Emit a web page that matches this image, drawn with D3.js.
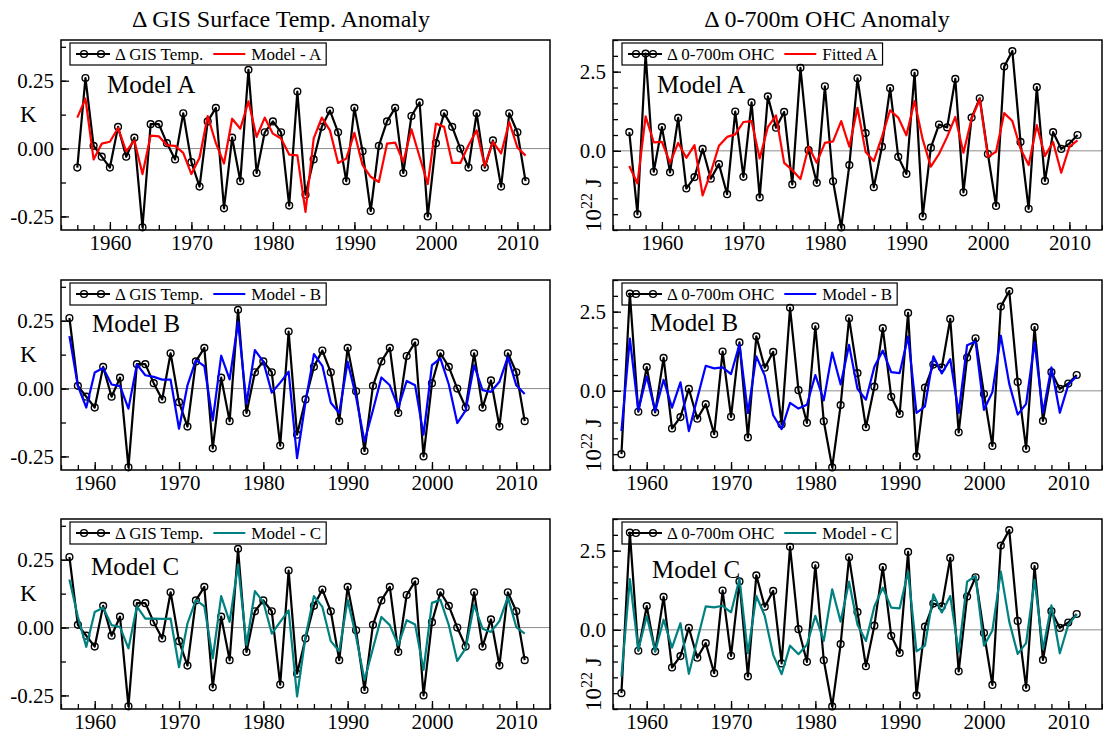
<!DOCTYPE html>
<html>
<head>
<meta charset="utf-8">
<script src="https://cdn.jsdelivr.net/npm/d3@7"></script>
<style>
  body { margin: 0; background: #fff; }
  svg { display: block; font-family: "Liberation Serif", "Times New Roman", serif; }
</style>
</head>
<body>
<div id="chart"></div>
<script>
'use strict'

////////////////////////////////////
//////////////// data //////////////
////////////////////////////////////

// year-to-year change of GIS surface temp, 1956-2011 (K)
const gisTemp = [
  -0.07, 0.26, 0.01, -0.03, -0.07, 0.08, -0.03, 0.04, -0.29, 0.09,
  0.09, 0.02, -0.04, 0.13, -0.05, -0.14, 0.10, 0.15, -0.22, 0.04,
  -0.12, 0.29, -0.09, 0.06, 0.10, 0.06, -0.21, 0.21, -0.17, -0.04,
  0.08, 0.14, 0.06, -0.12, 0.15, -0.01, -0.23, 0.01, 0.10, 0.15,
  -0.09, 0.12, 0.17, -0.25, 0.02, 0.13, 0.08, 0.00, -0.07, 0.13,
  -0.07, 0.03, -0.14, 0.13, 0.06, -0.12
]
// 1956-2011
const gisModelA = [
  0.114, 0.184, -0.04, 0.018, 0.025, 0.076, -0.01, 0.03, -0.094, 0.048,
  0.045, 0.012, 0.01, -0.016, -0.094, -0.034, 0.12, 0.02, -0.055, 0.11,
  0.073, 0.174, 0.043, 0.114, 0.055, 0.037, -0.022, -0.025, -0.233, 0.037,
  0.114, 0.067, -0.053, -0.037, 0.058, -0.061, -0.104, -0.123, 0.018, 0.022,
  -0.049, 0.071, -0.03, -0.131, 0.092, 0.08, -0.053, -0.053, 0.012, 0.067,
  -0.065, 0.025, -0.018, 0.098, 0.004, -0.026
]
// 1957-2011
const gisModelB = [
  0.193, 0.01, -0.07, 0.059, 0.076, 0.015, 0.009, -0.074, 0.089, 0.049,
  0.043, 0.033, 0.033, -0.148, 0.012, 0.105, 0.083, -0.117, 0.121, 0.034,
  0.246, -0.055, 0.142, 0.099, -0.015, 0.022, 0.062, -0.256, -0.05, 0.127,
  0.084, -0.052, -0.09, 0.099, -0.031, -0.195, -0.08, 0.041, 0.012, -0.07,
  0.028, 0.012, -0.17, 0.086, 0.111, 0.015, -0.127, -0.08, 0.086, -0.006,
  -0.012, 0.025, 0.117, 0.012, -0.02
]
// 1957-2011
const gisModelC = [
  0.177, 0.04, -0.071, 0.057, 0.073, 0.009, 0.002, -0.077, 0.078, 0.033,
  0.033, 0.032, 0.033, -0.146, 0.015, 0.102, 0.078, -0.113, 0.116, 0.021,
  0.232, -0.065, 0.134, 0.094, -0.022, 0.021, 0.063, -0.254, -0.034, 0.116,
  0.076, -0.05, -0.087, 0.102, -0.034, -0.193, -0.077, 0.039, 0.009, -0.065,
  0.027, 0.011, -0.156, 0.091, 0.102, 0.009, -0.123, -0.077, 0.084, -0.004,
  -0.016, 0.024, 0.112, 0.002, -0.022
]

// year-to-year change of 0-700m ocean heat content, 1956-2011 (10^22 J)
const ohc = [
  0.59, -2.0, 3.07, -0.66, 0.75, -0.68, 1.04, -1.19, -0.83, 0.06,
  -0.88, -0.42, -1.37, 1.24, -0.82, 1.53, -1.47, 1.72, 0.73, 1.23,
  -1.06, 2.62, 0.02, -1.01, 2.04, -0.96, -2.42, -0.45, 2.29, 0.56,
  -1.15, 0.13, 1.98, -0.19, -0.73, 2.46, -2.07, 0.10, 0.83, 0.74,
  2.27, -1.31, 1.05, 1.66, -0.10, -1.74, 2.66, 3.15, 0.28, -1.83,
  2.01, -0.95, 0.59, 0.06, 0.23, 0.50
]
// 1956-2011
const ohcFittedA = [
  -0.48, -1.03, 1.09, 0.27, 0.28, -0.38, 0.25, -0.22, 0.18, -1.41,
  -0.68, 0.16, 0.44, 0.52, 0.91, 0.94, -0.24, 0.75, 1.12, -0.38,
  -0.61, -0.89, 0.13, -0.38, 0.25, 0.30, 0.94, 0.13, 1.36, -0.04,
  -0.32, 0.44, 1.28, 1.05, 0.49, 1.57, 0.36, -0.50, -0.10, 0.44,
  1.07, -0.06, 1.01, 1.63, -0.19, -0.03, 1.19, 0.94, 0.07, -0.45,
  0.81, -0.16, 0.28, -0.69, 0.13, 0.33
]
// 1957-2011
const ohcModelB = [
  -1.27, 1.65, -0.62, 0.46, -0.64, 0.35, -0.53, 0.27, -1.27, -0.23,
  0.79, 0.71, 0.74, 0.53, 1.47, -0.70, 1.09, 0.48, -0.77, -1.21,
  -0.38, -0.56, -0.44, 0.50, -0.30, 1.21, 0.20, 1.45, 0.06, -0.28,
  0.76, 1.27, 0.59, 0.56, 1.72, -0.70, -0.49, 1.09, 0.55, 1.00,
  -0.70, 1.44, 1.56, -0.60, -0.04, 1.74, 0.22, -0.75, -0.41, 1.53,
  -0.69, 0.74, -0.69, 0.19, 0.46
]
// 1957-2011
const ohcModelC = [
  -1.47, 1.60, -0.63, 0.44, -0.68, 0.32, -0.56, 0.21, -1.39, -0.32,
  0.74, 0.71, 0.76, 0.55, 1.61, -0.74, 1.07, 0.44, -0.79, -1.40,
  -0.50, -0.77, -0.47, 0.44, -0.35, 1.28, 0.26, 1.52, 0.16, -0.35,
  0.74, 1.33, 0.70, 0.68, 1.84, -0.68, -0.50, 1.12, 0.55, 1.07,
  -0.71, 1.52, 1.70, -0.50, -0.02, 1.84, 0.26, -0.76, -0.42, 1.58,
  -0.61, 0.77, -0.74, 0.16, 0.49
]

const gisTicks = [-0.25, 0, 0.25]
const ohcTicks = [0, 2.5]
const yearTicks = [1960, 1970, 1980, 1990, 2000, 2010]
const columnTitles = ['\u0394 GIS Surface Temp. Anomaly', '\u0394 0-700m OHC Anomaly']

////////////////////////////////////
//////////// svg setup /////////////
////////////////////////////////////

const svgWidth = 1103
const svgHeight = 738

const svg = d3.select('#chart')
    .append('svg')
    .attr('width', svgWidth)
    .attr('height', svgHeight)

// frame positions
const colX = [61, 613]
const rowY = [40, 280, 519]
const frameW = 489
const frameH = 190

const panels = [
    {col: 0, row: 0, x0: 1954, from: 1956, obs: gisTemp, obsStart: 1956, fit: gisModelA, fitStart: 1956,
     obsName: '\u0394 GIS Temp.', fitName: 'Model - A', color: '#ff0000', label: 'Model A', lx: 46, ly: 53},
    {col: 0, row: 1, x0: 1956, from: 1957, obs: gisTemp, obsStart: 1956, fit: gisModelB, fitStart: 1957,
     obsName: '\u0394 GIS Temp.', fitName: 'Model - B', color: '#0000ff', label: 'Model B', lx: 31, ly: 52},
    {col: 0, row: 2, x0: 1956, from: 1957, obs: gisTemp, obsStart: 1956, fit: gisModelC, fitStart: 1957,
     obsName: '\u0394 GIS Temp.', fitName: 'Model - C', color: '#008080', label: 'Model C', lx: 30, ly: 56},
    {col: 1, row: 0, x0: 1954, from: 1956, obs: ohc, obsStart: 1956, fit: ohcFittedA, fitStart: 1956,
     obsName: '\u0394 0-700m OHC', fitName: 'Fitted A', color: '#ff0000', label: 'Model A', lx: 44, ly: 53},
    {col: 1, row: 1, x0: 1956, from: 1957, obs: ohc, obsStart: 1956, fit: ohcModelB, fitStart: 1957,
     obsName: '\u0394 0-700m OHC', fitName: 'Model - B', color: '#0000ff', label: 'Model B', lx: 37, ly: 51},
    {col: 1, row: 2, x0: 1956, from: 1957, obs: ohc, obsStart: 1956, fit: ohcModelC, fitStart: 1957,
     obsName: '\u0394 0-700m OHC', fitName: 'Model - C', color: '#008080', label: 'Model C', lx: 39, ly: 59}
]

////////////////////////////////////
////////////// titles //////////////
////////////////////////////////////

svg.selectAll('.col-title')
    .data(columnTitles)
    .join('text')
    .attr('class', 'col-title')
    .attr('x', (d, i) => [281, 827][i])
    .attr('y', 27)
    .attr('text-anchor', 'middle')
    .style('font-size', '24px')
    .text(d => d)

////////////////////////////////////
////////////// panels //////////////
////////////////////////////////////

panels.forEach(p => {
    const g = svg.append('g')
        .attr('transform', `translate(${colX[p.col]},${rowY[p.row]})`)

    const xScale = d3.scaleLinear()
        .domain([p.x0, 2014])
        .range([0, frameW])

    const yScale = d3.scaleLinear()
        .domain(p.col === 0 ? [-0.3, 0.4] : [-2.5, 3.5])
        .range([frameH, 0])

    const obsPts = p.obs.map((v, i) => ({year: p.obsStart + i, v: v}))
        .filter(d => d.year >= p.from)
    const fitPts = p.fit.map((v, i) => ({year: p.fitStart + i, v: v}))

    // zero line
    g.append('line')
        .attr('x1', 0).attr('x2', frameW)
        .attr('y1', yScale(0)).attr('y2', yScale(0))
        .attr('stroke', '#8c8c8c')
        .attr('stroke-width', 1)

    // axes, ticks point inward
    const minorX = d3.range(p.x0, 2015, 2)
    const minorY = p.col === 0 ? d3.range(-0.25, 0.4, 0.125) : d3.range(-2.5, 3.6, 0.5)

    const styleAxis = sel => {
        sel.select('.domain').remove()
        sel.selectAll('line').attr('stroke', '#000').attr('stroke-width', 1.3)
        sel.selectAll('text')
            .attr('fill', '#000')
            .style('font-family', '"Liberation Serif", "Times New Roman", serif')
            .style('font-size', '21px')
    }

    g.append('g')
        .attr('transform', `translate(0,${frameH})`)
        .call(d3.axisBottom(xScale).tickValues(minorX).tickSize(-5).tickFormat(''))
        .call(styleAxis)

    g.append('g')
        .attr('transform', `translate(0,${frameH})`)
        .call(d3.axisBottom(xScale).tickValues(yearTicks).tickSize(-8).tickPadding(5).tickFormat(d3.format('d')))
        .call(styleAxis)

    g.append('g')
        .call(d3.axisLeft(yScale).tickValues(minorY).tickSize(-5).tickFormat(''))
        .call(styleAxis)

    g.append('g')
        .call(d3.axisLeft(yScale)
            .tickValues(p.col === 0 ? gisTicks : ohcTicks)
            .tickSize(-8)
            .tickPadding(7)
            .tickFormat(d => p.col === 0 ? d.toFixed(2) : d.toFixed(1)))
        .call(styleAxis)

    // observed series
    const line = d3.line()
        .x(d => xScale(d.year))
        .y(d => yScale(d.v))

    g.append('path')
        .datum(obsPts)
        .attr('d', line)
        .attr('fill', 'none')
        .attr('stroke', '#000')
        .attr('stroke-width', 2.2)
        .attr('stroke-linejoin', 'round')

    g.selectAll('.obs-dot')
        .data(obsPts)
        .join('circle')
        .attr('class', 'obs-dot')
        .attr('cx', d => xScale(d.year))
        .attr('cy', d => yScale(d.v))
        .attr('r', 3.4)
        .attr('fill', 'none')
        .attr('stroke', '#000')
        .attr('stroke-width', 1.4)

    // model series
    g.append('path')
        .datum(fitPts)
        .attr('d', line)
        .attr('fill', 'none')
        .attr('stroke', p.color)
        .attr('stroke-width', 2.2)
        .attr('stroke-linejoin', 'round')

    // model label
    g.append('text')
        .attr('x', p.lx)
        .attr('y', p.ly)
        .style('font-size', '25px')
        .text(p.label)

    // frame
    g.append('rect')
        .attr('width', frameW)
        .attr('height', frameH)
        .attr('fill', 'none')
        .attr('stroke', '#000')
        .attr('stroke-width', 1.5)

    ////////////////////////////////////
    ////////////// legend //////////////
    ////////////////////////////////////

    const lg = g.append('g').attr('transform', 'translate(9,3)')
    const box = lg.append('rect')
        .attr('height', 22)
        .attr('fill', 'none')
        .attr('stroke', '#000')
        .attr('stroke-width', 1.2)

    lg.append('line')
        .attr('x1', 6).attr('x2', 40).attr('y1', 11).attr('y2', 11)
        .attr('stroke', '#000').attr('stroke-width', 2.2)
    lg.selectAll('.lg-dot')
        .data([14, 31])
        .join('circle')
        .attr('class', 'lg-dot')
        .attr('cx', d => d).attr('cy', 11).attr('r', 3.4)
        .attr('fill', 'none').attr('stroke', '#000').attr('stroke-width', 1.4)

    const t1 = lg.append('text')
        .attr('x', 45).attr('y', 17)
        .style('font-size', '17px')
        .text(p.obsName)
    const t1End = 45 + t1.node().getComputedTextLength()

    lg.append('line')
        .attr('x1', t1End + 10).attr('x2', t1End + 42).attr('y1', 11).attr('y2', 11)
        .attr('stroke', p.color).attr('stroke-width', 2.2)

    const t2 = lg.append('text')
        .attr('x', t1End + 48).attr('y', 17)
        .style('font-size', '17px')
        .text(p.fitName)

    box.attr('width', t1End + 48 + t2.node().getComputedTextLength() + 5)

    ////////////////////////////////////
    ////////////// y label /////////////
    ////////////////////////////////////

    if (p.col === 0) {
        g.append('text')
            .attr('x', 20 - colX[0])
            .attr('y', 81.5)
            .style('font-size', '23px')
            .text('K')
    } else {
        const yl = g.append('text')
            .attr('transform', `translate(${601 - colX[1]},${frameH + 2}) rotate(-90)`)
            .style('font-size', '23px')
        yl.append('tspan').text('10')
        yl.append('tspan').attr('dy', -9).style('font-size', '16px').text('22')
        yl.append('tspan').attr('dy', 9).text(' J')
    }
})
</script>
</body>
</html>
